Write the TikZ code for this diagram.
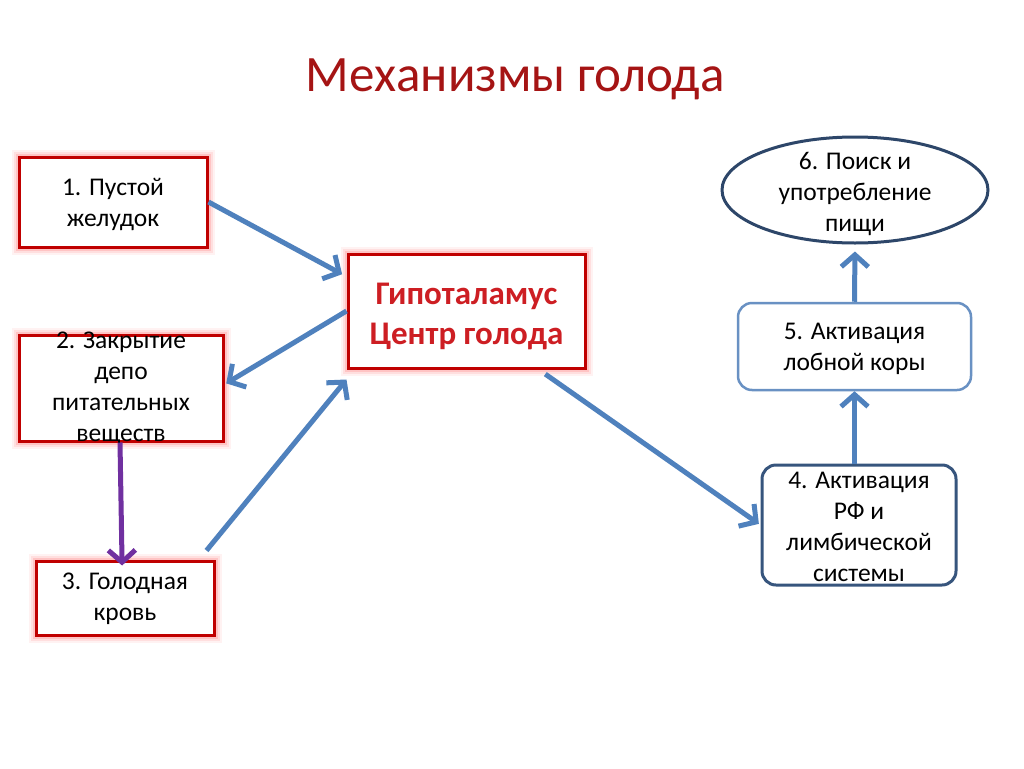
\documentclass[tikz,border=0pt]{standalone}
\usepackage{fontspec}
\setmainfont{Carlito}
\usetikzlibrary{arrows.meta,shapes.geometric,calc}
\definecolor{boxred}{RGB}{192,0,0}
\definecolor{glowred}{RGB}{255,90,90}
\definecolor{titlered}{RGB}{165,20,20}
\definecolor{hypred}{RGB}{205,30,35}
\definecolor{arrblue}{RGB}{79,129,189}
\definecolor{lightbord}{RGB}{105,145,195}
\definecolor{darkbord}{RGB}{55,85,125}
\definecolor{navybord}{RGB}{45,70,105}
\definecolor{purp}{RGB}{112,48,160}
\tikzset{
  redbox/.style={draw=boxred, line width=3pt, fill=white, inner sep=0pt,
    preaction={draw=glowred, draw opacity=0.08, line width=15pt},
    preaction={draw=glowred, draw opacity=0.12, line width=11pt},
    preaction={draw=glowred, draw opacity=0.2, line width=7pt}},
  txt/.style={align=center, font=\fontsize{25.5pt}{31pt}\selectfont, text=black},
  blarrow/.style={draw=arrblue, line width=5pt, -{Straight Barb[length=12pt,width=27pt]}},
  parrow/.style={draw=purp, line width=5pt, -{Straight Barb[length=12pt,width=27pt]}},
}
\begin{document}
\begin{tikzpicture}[x=1pt,y=-1pt]
\useasboundingbox (0,0) rectangle (1024,768);
\fill[white] (0,0) rectangle (1024,768);
% title
\node[font=\fontsize{51pt}{60pt}\selectfont, text=titlered] (title) at (515,79) {Механизмы голода};
% red boxes
\node[redbox, minimum width=188pt, minimum height=90pt] (b1) at (113,202) {};
\node[txt] (t1) at ($(b1)+(0,2)$) {1. Пустой\\желудок};
\node[redbox, minimum width=237pt, minimum height=114pt] (hyp) at (466.5,311) {};
\node[align=center, font=\fontsize{33pt}{40pt}\selectfont\bfseries, text=hypred] (thyp) at ($(hyp)+(0,5)$) {Гипоталамус\\Центр голода};
\node[redbox, minimum width=204pt, minimum height=106pt] (b2) at (121,388) {};
\node[txt] (t2) at ($(b2)+(0,1)$) {2. Закрытие\\депо\\питательных\\веществ};
\node[redbox, minimum width=178pt, minimum height=74pt] (b3) at (125,598) {};
\node[txt] (t3) at ($(b3)+(0,1)$) {3. Голодная\\кровь};
% blue boxes
\node[draw=darkbord, line width=3pt, rounded corners=14pt, fill=white, minimum width=194pt, minimum height=120pt] (b4) at (859,525) {};
\node[txt] (t4) at ($(b4)+(0,2)$) {4. Активация\\РФ и\\лимбической\\системы};
\node[draw=lightbord, line width=2.5pt, rounded corners=14pt, fill=white, minimum width=233pt, minimum height=87pt] (b5) at (854.5,346.5) {};
\node[txt] (t5) at ($(b5)+(0,2)$) {5. Активация\\лобной коры};
\node[draw=navybord, line width=3pt, ellipse, fill=white, minimum width=266pt, minimum height=106pt, inner sep=0pt] (e6) at (855,190) {};
\node[txt] (t6) at ($(e6)+(0,4)$) {6. Поиск и\\употребление\\пищи};
% arrows
\draw[blarrow, shorten >=5pt] (b1.east) -- (hyp.164);
\draw[blarrow, shorten >=2pt] (hyp.west) -- (b2.2);
\draw[blarrow] ($(b3.north east)+(-9,-9)$) -- ($(hyp.south west)+(0,10)$);
\draw[parrow, shorten >=-6pt] ($(b2.south)+(-1,0)$) -- ($(b2.south |- b3.north)+(1,0)$);
\draw[blarrow, shorten <=8pt, shorten >=2pt] (hyp.-39) -- (b4.west);
\draw[blarrow] (b5.south |- b4.north) -- (b5.south);
\draw[blarrow, shorten >=7pt] (b5.north) -- (e6.south);
\end{tikzpicture}
\end{document}
